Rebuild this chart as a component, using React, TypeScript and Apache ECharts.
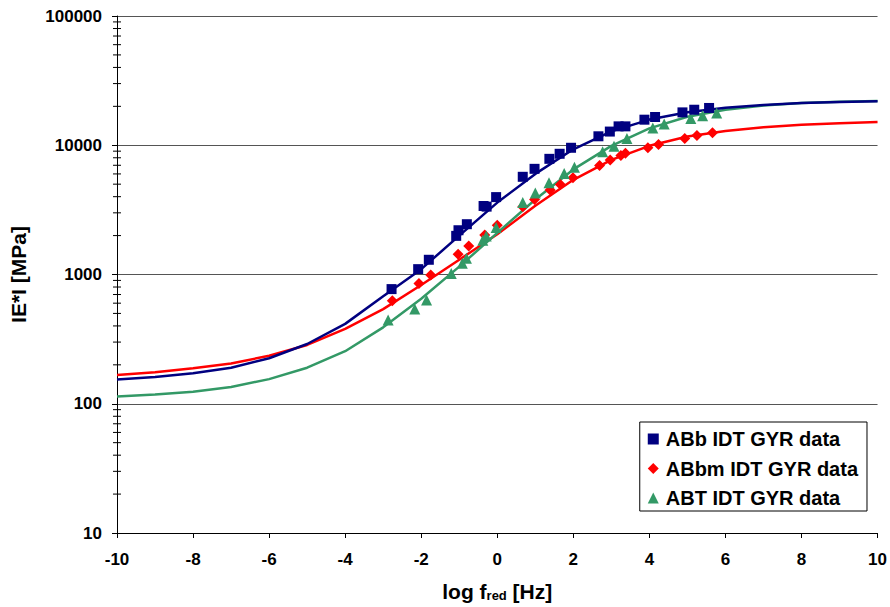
import React, { useEffect, useRef } from "react";
import * as echarts from "echarts";

// Fitted master curves, sampled at integer log f_red from -10 to 10
const fitX = [-10, -9, -8, -7, -6, -5, -4, -3, -2, -1, 0, 1, 2, 3, 4, 5, 6, 7, 8, 9, 10];
const fitABb = [154, 161, 172, 190, 225, 290, 415, 680, 1100, 2000, 3600, 6000, 9300, 12800, 15800, 18000, 19500, 20500, 21200, 21600, 21900];
const fitABbm = [167, 175, 188, 205, 235, 285, 380, 540, 830, 1300, 2050, 3400, 5400, 7700, 9900, 11700, 12900, 13800, 14400, 14800, 15100];
const fitABT = [114, 118, 124, 135, 155, 190, 255, 390, 650, 1150, 2100, 3800, 6500, 9900, 13500, 16600, 18800, 20300, 21200, 21700, 22000];

// Measured data (log f_red, |E*| in MPa)
const dataABbX = [-2.78, -2.08, -1.8, -1.08, -1.02, -0.8, -0.36, -0.28, -0.03, 0.67, 0.98, 1.37, 1.64, 1.94, 2.66, 2.96, 3.19, 3.37, 3.87, 4.15, 4.87, 5.18, 5.57];
const dataABbY = [771, 1100, 1300, 1990, 2200, 2450, 3390, 3350, 3970, 5700, 6570, 7850, 8590, 9560, 11730, 12760, 14000, 14000, 15770, 16540, 17960, 18830, 19430];

const dataABbmX = [-2.76, -2.06, -1.75, -1.03, -0.75, -0.33, 0.0, 0.67, 0.98, 1.39, 1.66, 1.99, 2.69, 2.97, 3.25, 3.37, 3.96, 4.24, 4.93, 5.25, 5.66];
const dataABbmY = [627, 853, 989, 1435, 1663, 2022, 2403, 3350, 3810, 4500, 4980, 5600, 6970, 7690, 8330, 8690, 9550, 10120, 11270, 11880, 12470];

const dataABTX = [-2.87, -2.17, -1.86, -1.21, -0.92, -0.81, -0.38, -0.29, -0.03, 0.67, 1.0, 1.36, 1.76, 2.03, 2.77, 3.07, 3.41, 4.09, 4.39, 5.09, 5.4, 5.77];
const dataABTY = [445, 541, 635, 1019, 1223, 1336, 1840, 1987, 2306, 3600, 4270, 5130, 6050, 6760, 8920, 9820, 11270, 13620, 14620, 16070, 16950, 17780];

// Minor log ticks on the value axis (2..9 in each decade)
const minorTicks = [
  20, 30, 40, 50, 60, 70, 80, 90,
  200, 300, 400, 500, 600, 700, 800, 900,
  2000, 3000, 4000, 5000, 6000, 7000, 8000, 9000,
  20000, 30000, 40000, 50000, 60000, 70000, 80000, 90000,
];

const X_MIN = -10;
const X_MAX = 10;
const FONT = "Liberation Sans, Arial, sans-serif";

const BLUE = "#000080";
const RED = "#ff0000";
const GREEN = "#339966";

const pairs = (xs: number[], ys: number[]) => xs.map((x, i) => [x, ys[i]]);

export default function App() {
  const ref = useRef<HTMLDivElement>(null);

  useEffect(() => {
    if (!ref.current) return;
    const chart = echarts.init(ref.current, null, { renderer: "svg" });

    const lineSeries = (name: string, ys: number[], color: string) => ({
      name,
      type: "line",
      data: pairs(fitX, ys),
      showSymbol: false,
      symbol: "none",
      lineStyle: { color, width: 2.5 },
      z: 2,
    });

    const scatterSeries = (name: string, xs: number[], ys: number[], color: string, symbol: string, size: number) => ({
      name,
      type: "scatter",
      data: pairs(xs, ys),
      symbol,
      symbolSize: size,
      itemStyle: { color, opacity: 1 },
      z: 3,
    });

    chart.setOption({
      animation: false,
      backgroundColor: "#ffffff",
      textStyle: { fontFamily: FONT },
      grid: { left: 115, right: 12, top: 16, bottom: 72, containLabel: false },
      xAxis: {
        type: "value",
        min: X_MIN,
        max: X_MAX,
        interval: 2,
        axisLine: { show: true, onZero: false, lineStyle: { color: "#000", width: 1 } },
        axisTick: { show: true, length: 5, lineStyle: { color: "#000" } },
        splitLine: { show: false },
        axisLabel: { color: "#000", fontWeight: "bold", fontSize: 17, fontFamily: FONT, margin: 18 },
        name: "{a|log f}{s|red}{a| [Hz]}",
        nameLocation: "middle",
        nameGap: 47,
        nameTextStyle: {
          rich: {
            a: { fontSize: 21, fontWeight: "bold", color: "#000", fontFamily: FONT },
            s: { fontSize: 13, fontWeight: "bold", color: "#000", fontFamily: FONT, verticalAlign: "bottom", padding: [9, 0, 0, 0] },
          },
        },
      },
      yAxis: {
        type: "log",
        logBase: 10,
        min: 10,
        max: 100000,
        axisLine: { show: true, onZero: false, lineStyle: { color: "#000", width: 1 } },
        axisTick: { show: true, length: 5, lineStyle: { color: "#000" } },
        splitLine: { show: true, lineStyle: { color: "#555", width: 1 } },
        axisLabel: {
          color: "#000",
          fontWeight: "bold",
          fontSize: 17,
          fontFamily: FONT,
          margin: 15,
          formatter: (v: number) => String(Math.round(v)),
        },
        name: "IE*I [MPa]",
        nameLocation: "middle",
        nameGap: 88,
        nameTextStyle: { fontSize: 21, fontWeight: "bold", color: "#000", fontFamily: FONT },
      },
      legend: {
        orient: "vertical",
        right: 23,
        top: 422,
        data: ["ABb IDT GYR data", "ABbm IDT GYR data", "ABT IDT GYR data"],
        backgroundColor: "#ffffff",
        borderColor: "#000",
        borderWidth: 1,
        padding: [7, 9, 3, 8],
        itemWidth: 11,
        itemHeight: 11,
        itemGap: 9.5,
        textStyle: { fontSize: 20, fontWeight: "bold", color: "#000", fontFamily: FONT, lineHeight: 20, padding: [0, 0, 0, 2] },
      },
      series: [
        lineSeries("ABbm fit", fitABbm, RED),
        lineSeries("ABT fit", fitABT, GREEN),
        lineSeries("ABb fit", fitABb, BLUE),
        scatterSeries("ABbm IDT GYR data", dataABbmX, dataABbmY, RED, "diamond", 11),
        scatterSeries("ABT IDT GYR data", dataABTX, dataABTY, GREEN, "triangle", 11),
        scatterSeries("ABb IDT GYR data", dataABbX, dataABbY, BLUE, "rect", 10),
        {
          name: "minor ticks",
          type: "custom",
          data: minorTicks.map((v) => [X_MIN, v]),
          clip: false,
          silent: true,
          z: 4,
          renderItem: (params: any, api: any) => {
            const p = api.coord([X_MIN, api.value(1)]);
            return {
              type: "line",
              shape: { x1: p[0] - 4, y1: p[1], x2: p[0] + 4, y2: p[1] },
              style: { stroke: "#000", lineWidth: 1 },
            };
          },
        },
      ],
    });

    return () => chart.dispose();
  }, []);

  return (
    <div
      ref={ref}
      style={{ position: "fixed", left: 0, top: 0, width: 890, height: 607, background: "#fff" }}
    />
  );
}
